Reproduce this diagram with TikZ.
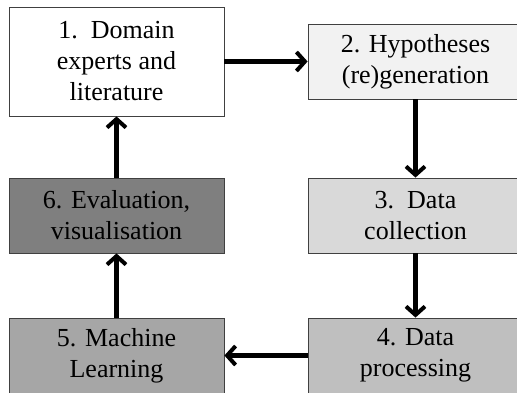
\documentclass[tikz,border=0pt]{standalone}
\usepackage{fontspec}
\setmainfont{Liberation Serif}
\usetikzlibrary{arrows.meta,positioning}
\definecolor{stepA}{RGB}{255,255,255}
\definecolor{stepB}{RGB}{242,242,242}
\definecolor{stepC}{RGB}{217,217,217}
\definecolor{stepD}{RGB}{191,191,191}
\definecolor{stepE}{RGB}{166,166,166}
\definecolor{stepF}{RGB}{127,127,127}
\definecolor{edgecol}{RGB}{64,64,64}

\begin{document}
\begin{tikzpicture}[
    x=1pt, y=1pt,
    stage/.style={rectangle, minimum width=215pt, minimum height=75pt, draw=edgecol, line width=0.8pt, align=center, inner sep=0pt, font=\fontsize{26}{31}\selectfont},
    flow/.style={-{Straight Barb[length=8.5pt,width=19pt,line width=4pt]}, line width=4.5pt},
]
\clip (0,0) rectangle (517,392);
\node[stage, fill=stepA, minimum height=109pt] (dom) at (116.5,330.5) {1.~~Domain\\experts and\\literature};
\node[stage, fill=stepB] (hyp) at (415.5,330.5) {2. Hypotheses\\(re)generation};
\node[stage, fill=stepC] (coll) at (415.5,176.5) {3.~~Data\\collection};
\node[stage, fill=stepD] (proc) at (415.5,36.5) {4. Data\\processing};
\node[stage, fill=stepE] (ml) at (116.5,36.5) {5. Machine\\Learning};
\node[stage, fill=stepF] (eval) at (116.5,176.5) {6. Evaluation,\\visualisation};

\draw[flow] (dom) -- (hyp);
\draw[flow] (hyp) -- (coll);
\draw[flow] (coll) -- (proc);
\draw[flow] (proc) -- (ml);
\draw[flow] (ml) -- (eval);
\draw[flow] (eval) -- (dom);
\end{tikzpicture}
\end{document}
